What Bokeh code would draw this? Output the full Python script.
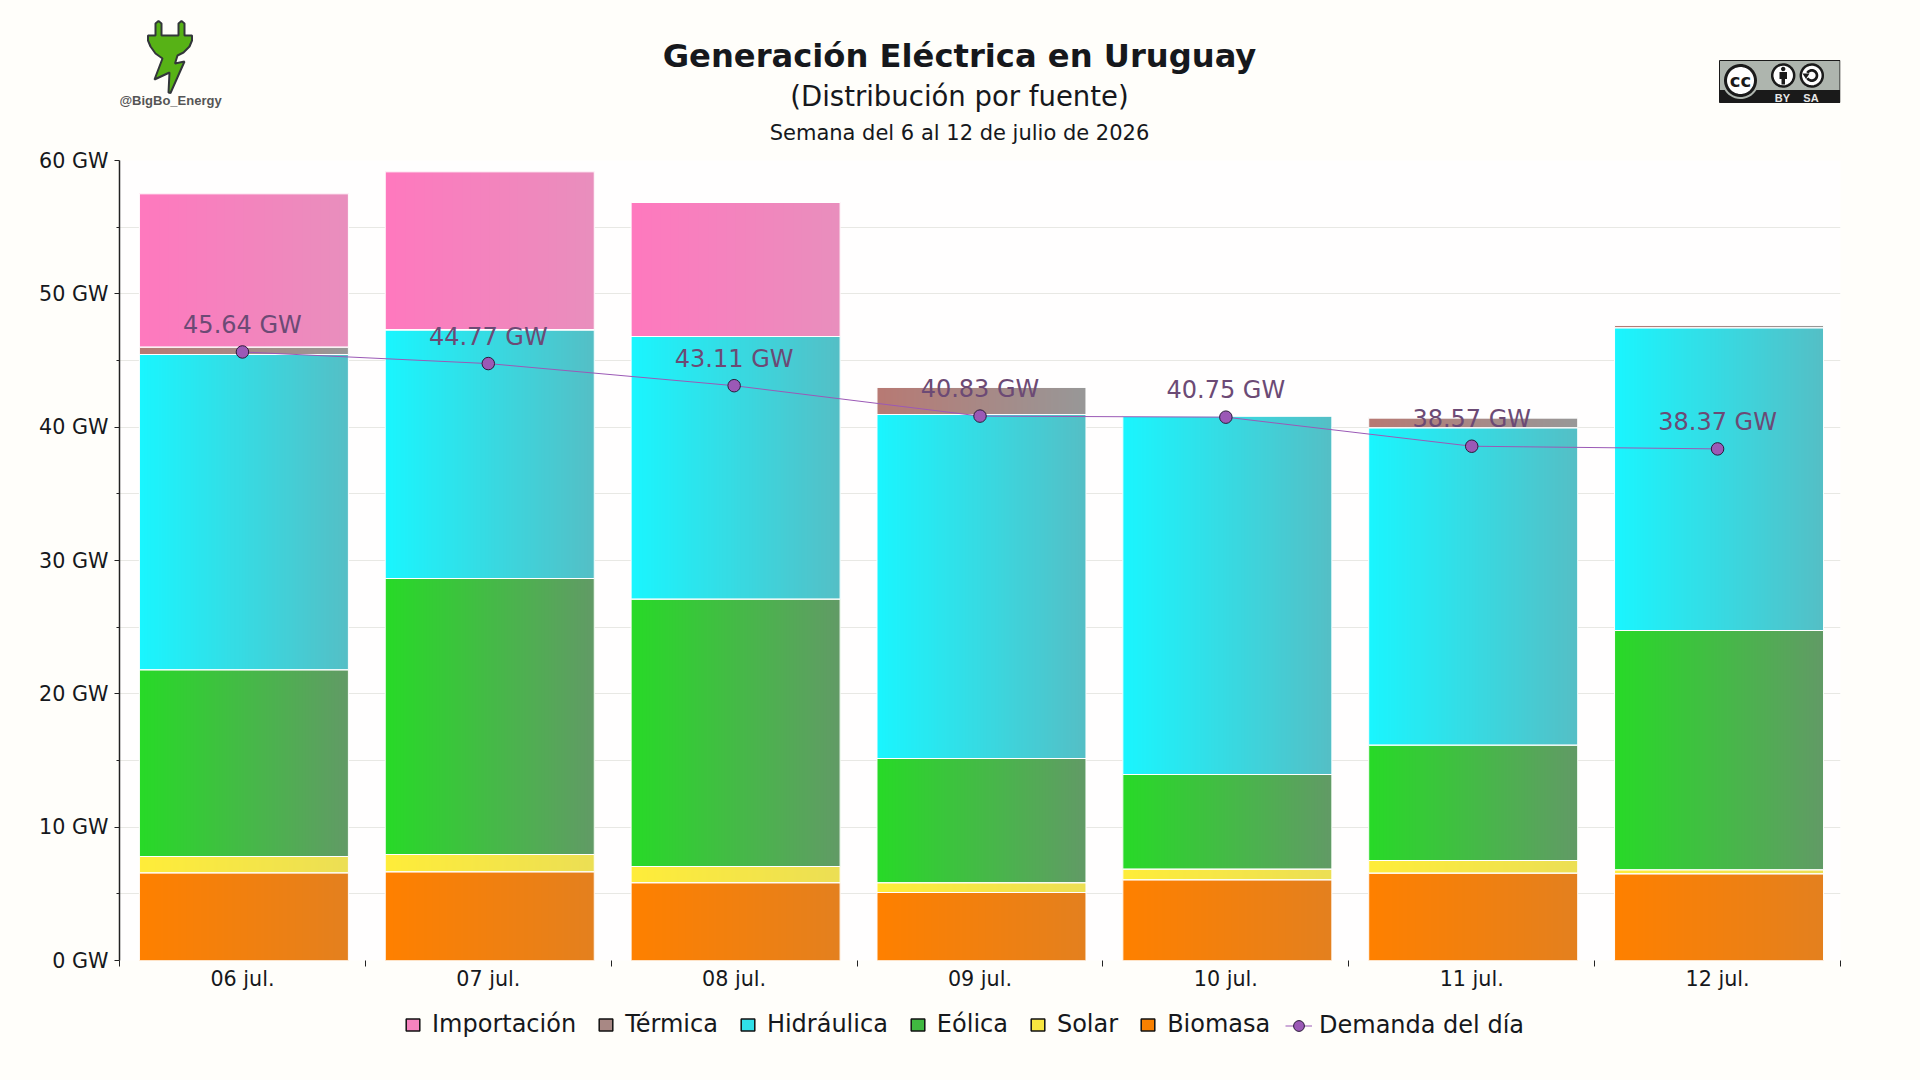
import numpy as np
from bokeh.plotting import figure
from bokeh.layouts import column
from bokeh.models import Range1d, FixedTicker, Legend, LegendItem, ColumnDataSource
from bokeh.core.properties import value
from bokeh.embed import file_html
from bokeh.resources import INLINE

days = ["06 jul.", "07 jul.", "08 jul.", "09 jul.", "10 jul.", "11 jul.", "12 jul."]
biomasa = [6.57, 6.65, 5.83, 5.10, 6.05, 6.55, 6.50]
solar = [1.23, 1.30, 1.22, 0.73, 0.80, 0.95, 0.30]
eolica = [14.00, 20.70, 20.05, 9.32, 7.10, 8.65, 17.95]
hidraulica = [23.65, 18.65, 19.70, 25.80, 26.90, 23.80, 22.70]
termica = [0.55, 0.00, 0.00, 2.05, 0.00, 0.75, 0.20]
importacion = [11.50, 11.85, 10.05, 0.00, 0.00, 0.00, 0.00]
demanda = [45.64, 44.77, 43.11, 40.83, 40.75, 38.57, 38.37]

names = ["Biomasa", "Solar", "Eólica", "Hidráulica", "Térmica", "Importación"]
series = [biomasa, solar, eolica, hidraulica, termica, importacion]
left_colors = ["#ff8000", "#ffed3a", "#28da28", "#1af6ff", "#b87a74", "#ff79bf"]
right_colors = ["#e4801f", "#ecdf55", "#629b66", "#55bfc6", "#989898", "#e98fbd"]
legend_colors = ["#f98000", "#f8e640", "#40b840", "#30dfe8", "#a88884", "#f683bf"]
y_ticks = [0, 10, 20, 30, 40, 50, 60]
y_minor = [5, 15, 25, 35, 45, 55]
BG = "#fffefa"
W = 1920
FL, FR, FT, FB = 119, 1840, 160, 960
TOP_H = 146
MAIN_BOTTOM = 1000
PAGE_H = 1078
BAR = 0.85
DX = 0.006


def rgb(h):
    return np.array([int(h[i:i + 2], 16) for i in (1, 3, 5)], dtype=float)


# ---------- header band (pixel coordinates) ----------
t = figure(width=W, height=TOP_H, output_backend="svg", toolbar_location=None,
           x_range=Range1d(FL, FR), y_range=Range1d(TOP_H, 0), min_border=0,
           min_border_left=FL, min_border_right=W - FR,
           background_fill_color=BG, border_fill_color=BG, outline_line_color=None)
t.axis.visible = False
t.grid.visible = False


def poly(pts_, fill, line=None, lw=1):
    t.patch([a for a, _ in pts_], [b for _, b in pts_], fill_color=fill, line_color=line, line_width=lw)


def text(tx, ty, s, size, font="DejaVu Sans", style="normal", color="#16181c"):
    t.text([tx], [ty], text=[s], text_font=value(font), text_font_style=style, text_font_size=size,
           text_color=color, text_align="center", text_baseline="alphabetic")


def circle(cx, cy, r, n=48, a0=0, a1=2 * np.pi):
    return [(cx + r * np.cos(q), cy + r * np.sin(q)) for q in np.linspace(a0, a1, n)]


text(959, 55, "Generación Eléctrica en Uruguay", "32.2px", style="bold")
text(959, 95, "(Distribución por fuente)", "27.5px")
text(959, 132, "Semana del 6 al 12 de julio de 2026", "21px")

plug = [(155, 35), (155, 23), (158, 20.5), (161, 23), (161, 35), (178, 35), (178, 23), (181, 20.5), (184, 23),
        (184, 35), (191.5, 35), (191.5, 40), (189, 46), (183, 52), (177, 55), (174.5, 63), (184, 61), (170, 92.5),
        (168, 92), (169, 72), (154, 79), (162, 58), (155, 53), (150, 46), (147.5, 40), (147.5, 35)]
poly(plug, "#57b216", "#33363a", 2)
text(170, 100, "@BigBo_Energy", "13px", font="Liberation Sans", style="bold", color="#555555")

poly([(1719, 60), (1839.5, 60), (1839.5, 102), (1719, 102)], "#aeb5ae", "#1a1a1a", 1)
poly([(1719, 89.5), (1839.5, 89.5), (1839.5, 102), (1719, 102)], "#1a1a1a")
poly(circle(1740, 80, 18.5), "#aeb5ae")
poly(circle(1740, 80, 15), "#ffffff", "#1a1a1a", 3)
text(1740, 80, "cc", "18px", style="bold", color="#1a1a1a")
for cx in (1782.7, 1811.3):
    poly(circle(cx, 75, 11), "#ffffff", "#1a1a1a", 2.5)
poly(circle(1782.7, 68.5, 2.2, 16), "#1a1a1a")
poly([(1779, 71.5), (1786.5, 71.5), (1786.5, 78.5), (1784.5, 78.5), (1784.5, 84), (1781, 84), (1781, 78.5), (1779, 78.5)],
     "#1a1a1a")
arc_o = circle(1811.3, 75, 6.5, 32, -2.6, 2.6)
arc_i = circle(1811.3, 75, 3.8, 32, -2.6, 2.6)
poly(arc_o + arc_i[::-1], "#1a1a1a")
poly([(1802, 73), (1809, 73), (1805.5, 78.5)], "#1a1a1a")
text(1782, 97, "BY", "11px", font="Liberation Sans", style="bold", color="#e8e8e8")
text(1810.5, 97, "SA", "11px", font="Liberation Sans", style="bold", color="#e8e8e8")

# ---------- main chart ----------
x = np.arange(len(days)) + DX
p = figure(width=W, height=MAIN_BOTTOM - TOP_H, output_backend="svg", toolbar_location=None,
           x_range=Range1d(-0.5, 6.5), y_range=Range1d(0, 60),
           min_border_left=FL, min_border_right=W - FR, min_border_top=FT - TOP_H,
           min_border_bottom=MAIN_BOTTOM - FB, background_fill_color="#fffefe",
           border_fill_color=BG, outline_line_color=None)

xa = p.xaxis[0]
xa.ticker = FixedTicker(ticks=list(range(len(days))), minor_ticks=[i - 0.5 for i in range(len(days) + 1)])
xa.major_label_overrides = {i: d for i, d in enumerate(days)}
xa.major_tick_in = 0
xa.major_tick_out = 0
xa.minor_tick_in = 0
xa.minor_tick_out = 6
xa.minor_tick_line_color = "#222222"
xa.axis_line_color = None
xa.major_label_text_font = "DejaVu Sans"
xa.major_label_text_font_size = "20.7px"
xa.major_label_text_color = "#16181c"
xa.major_label_standoff = 0

ya = p.yaxis[0]
ya.ticker = FixedTicker(ticks=y_ticks, minor_ticks=y_minor)
ya.major_label_overrides = {v: f"{v} GW" for v in y_ticks}
ya.major_tick_in = 0
ya.major_tick_out = 5
ya.minor_tick_in = 0
ya.minor_tick_out = 3
ya.axis_line_color = "#222222"
ya.axis_line_width = 1.5
ya.major_tick_line_color = "#222222"
ya.minor_tick_line_color = "#222222"
ya.major_label_text_font = "DejaVu Sans"
ya.major_label_text_font_size = "20.7px"
ya.major_label_text_color = "#16181c"
ya.major_label_standoff = 6

p.xgrid.visible = False
p.ygrid.ticker = FixedTicker(ticks=y_ticks, minor_ticks=y_minor)
p.ygrid.grid_line_color = "#e8e8e4"
p.ygrid.minor_grid_line_color = "#e8e8e4"
p.ygrid.grid_line_width = 1

data = {"x": x}
for n, s in zip(names, series):
    data[n] = s
src = ColumnDataSource(data)
p.vbar_stack(names, x="x", width=BAR, source=src, color=left_colors, line_color=None)

bottoms = np.zeros(len(days))
imgs, ix, iy, idw, idh = [], [], [], [], []
for s, c0, c1 in zip(series, left_colors, right_colors):
    vals = np.array(s)
    a, b = rgb(c0), rgb(c1)
    tt = np.linspace(0, 1, 128)[:, None]
    col = (a * (1 - tt) + b * tt).astype(np.uint32)
    row = (255 << 24) | (col[:, 2] << 16) | (col[:, 1] << 8) | col[:, 0]
    img = row.reshape(1, -1).astype(np.uint32)
    for i in range(len(days)):
        if vals[i] > 0:
            imgs.append(img)
            ix.append(x[i] - BAR / 2)
            iy.append(bottoms[i])
            idw.append(BAR)
            idh.append(vals[i])
    bottoms = bottoms + vals
p.image_rgba(image=imgs, x=ix, y=iy, dw=idw, dh=idh)
p.vbar_stack(names, x="x", width=BAR, source=src, fill_color=[None] * 6, line_color="#ffffff", line_width=1)

dsrc = ColumnDataSource(dict(x=np.arange(len(days)), y=demanda, t=[f"{v:.2f} GW" for v in demanda]))
p.line("x", "y", source=dsrc, line_color="#9b59b6", line_width=1)
p.scatter("x", "y", source=dsrc, size=12.5, fill_color="#9b59b6", line_color="#2a1a3a", line_width=1)
p.text("x", "y", text="t", source=dsrc, text_font=value("DejaVu Sans"), text_font_size="24px",
       text_color="#6c4a75", text_align="center", text_baseline="alphabetic", y_offset=-27)

# ---------- legend band ----------
b = figure(width=W, height=PAGE_H - MAIN_BOTTOM, output_backend="svg", toolbar_location=None,
           x_range=Range1d(0, 1), y_range=Range1d(0, 1), min_border=0,
           min_border_left=FL, min_border_right=W - FR,
           background_fill_color=BG, border_fill_color=BG, outline_line_color=None)
b.axis.visible = False
b.grid.visible = False
nan = float("nan")
items = []
for k in [5, 4, 3, 2, 1, 0]:
    r = b.quad(left=[nan], right=[nan], top=[nan], bottom=[nan], fill_color=legend_colors[k],
               line_color="#111111", line_width=1.5)
    items.append(LegendItem(label=names[k], renderers=[r]))
leg_style = dict(orientation="horizontal", background_fill_alpha=0, border_line_color=None,
                 label_text_font="DejaVu Sans", label_text_font_size="24px", label_text_color="#16181c",
                 margin=0, padding=0, label_height=24)
leg = Legend(items=items, location=(285, PAGE_H - 1038), glyph_width=17, glyph_height=15,
             label_standoff=11, spacing=21, **leg_style)
b.add_layout(leg, "center")
proxy_l = b.line([nan, nan], [nan, nan], line_color="#9b59b6", line_width=1)
proxy_s = b.scatter([nan], [nan], size=11, fill_color="#9b59b6", line_color="#2a1a3a", line_width=1)
leg2 = Legend(items=[LegendItem(label="Demanda del día", renderers=[proxy_l, proxy_s])],
              location=(1285 - FL, PAGE_H - 1039), glyph_width=27, glyph_height=27, label_standoff=7, **leg_style)
b.add_layout(leg2, "center")

html = file_html(column(t, p, b, spacing=0), INLINE)
html = html.replace("<head>", f"<head><style>html,body{{background:{BG};}}</style>", 1)
open("out.html", "w").write(html)
